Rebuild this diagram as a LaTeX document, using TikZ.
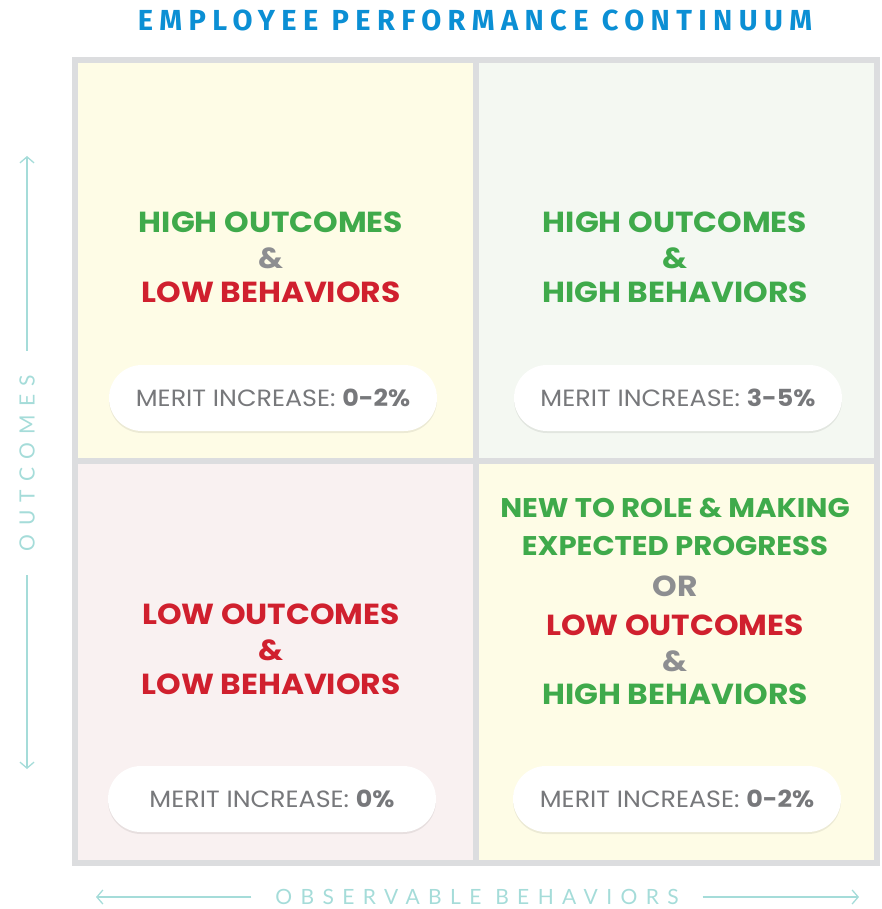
\documentclass[tikz,border=0pt]{standalone}
\usepackage{fontspec}
\setmainfont{Poppins}
\newfontfamily\quadfont[FakeStretch=1.08]{Poppins}
\newfontfamily\titlefont[LetterSpace=22]{Fira Sans}
\newfontfamily\axisfont[LetterSpace=40]{Lato}
\usetikzlibrary{arrows.meta,shadows}

\definecolor{frameGray}{HTML}{DCDDDF}
\definecolor{bgYellow}{HTML}{FEFCE6}
\definecolor{bgGreen}{HTML}{F4F8F2}
\definecolor{bgPink}{HTML}{F9F1F1}
\definecolor{hiGreen}{HTML}{3FAA4B}
\definecolor{loRed}{HTML}{D0202E}
\definecolor{andGray}{HTML}{8D8E91}
\definecolor{pillGray}{HTML}{77787B}
\definecolor{titleBlue}{HTML}{0B8FD4}
\definecolor{axisTeal}{HTML}{A5DCD9}

\tikzset{
  quad/.style={font=\quadfont\bfseries\fontsize{29}{29}\selectfont, inner sep=0pt},
  quadsmall/.style={font=\quadfont\bfseries\fontsize{27}{27}\selectfont, inner sep=0pt},
  pill/.style={fill=white, rounded corners=33pt, minimum width=328pt, minimum height=66pt,
    inner sep=0pt, text=pillGray, font=\quadfont\fontsize{23.5}{23.5}\selectfont,
    drop shadow={shadow xshift=0pt, shadow yshift=-2pt, opacity=0.07, fill=black}},
  axislabel/.style={font=\axisfont\fontsize{21}{21}\selectfont, text=axisTeal, inner sep=0pt, outer sep=24pt},
  axisline/.style={draw=axisTeal, line width=1.3pt, -{Straight Barb[length=6pt,width=14pt]}},
}

\begin{document}
\begin{tikzpicture}[x=1pt, y=-1pt]
\useasboundingbox (0,0) rectangle (881,909);

% quadrants
\fill[bgYellow] (75,60) rectangle (476,461);
\fill[bgGreen] (476,60) rectangle (877,461);
\fill[bgPink] (75,461) rectangle (476,863);
\fill[bgYellow] (476,461) rectangle (877,863);
\draw[frameGray, line width=6pt] (75,60) rectangle (877,863);
\draw[frameGray, line width=6pt] (476,60) -- (476,863);
\draw[frameGray, line width=6pt] (75,461) -- (877,461);

\node[font=\titlefont\bfseries\fontsize{29}{29}\selectfont, text=titleBlue] (title) at (475,20) {EMPLOYEE PERFORMANCE CONTINUUM};

% top left
\node[quad, text=hiGreen] (tl1) at (271,222) {HIGH OUTCOMES};
\node[quad, text=andGray] (tl2) at (271,258) {\&};
\node[quad, text=loRed] (tl3) at (271,292) {LOW BEHAVIORS};
\node[pill] (tlpill) at (273,398) {MERIT INCREASE: \textbf{0-2\%}};

% top right
\node[quad, text=hiGreen] (tr1) at (675,222) {HIGH OUTCOMES};
\node[quad, text=hiGreen] (tr2) at (675,258) {\&};
\node[quad, text=hiGreen] (tr3) at (675,292) {HIGH BEHAVIORS};
\node[pill] (trpill) at (678,398) {MERIT INCREASE: \textbf{3-5\%}};

% bottom left
\node[quad, text=loRed] (bl1) at (271,614) {LOW OUTCOMES};
\node[quad, text=loRed] (bl2) at (271,650) {\&};
\node[quad, text=loRed] (bl3) at (271,684) {LOW BEHAVIORS};
\node[pill] (blpill) at (272,799) {MERIT INCREASE: \textbf{0\%}};

% bottom right
\node[quadsmall, text=hiGreen] (br1) at (675,508) {NEW TO ROLE \& MAKING};
\node[quadsmall, text=hiGreen] (br2) at (675,546) {EXPECTED PROGRESS};
\node[quad, text=andGray] (br3) at (675,586) {OR};
\node[quad, text=loRed] (br4) at (675,625) {LOW OUTCOMES};
\node[quad, text=andGray] (br5) at (675,661) {\&};
\node[quad, text=hiGreen] (br6) at (675,694) {HIGH BEHAVIORS};
\node[pill] (brpill) at (677,799) {MERIT INCREASE: \textbf{0-2\%}};

% axes
\coordinate (ytop) at (27,156);
\coordinate (ybot) at (27,769);
\node[axislabel, rotate=90] (ylab) at (27,463) {OUTCOMES};
\draw[axisline] (ylab.east) -- (ytop);
\draw[axisline] (ylab.west) -- (ybot);

\coordinate (xleft) at (96,897);
\coordinate (xright) at (859,897);
\node[axislabel] (xlab) at (477,897) {OBSERVABLE BEHAVIORS};
\draw[axisline] (xlab.west) -- (xleft);
\draw[axisline] (xlab.east) -- (xright);
\end{tikzpicture}
\end{document}
